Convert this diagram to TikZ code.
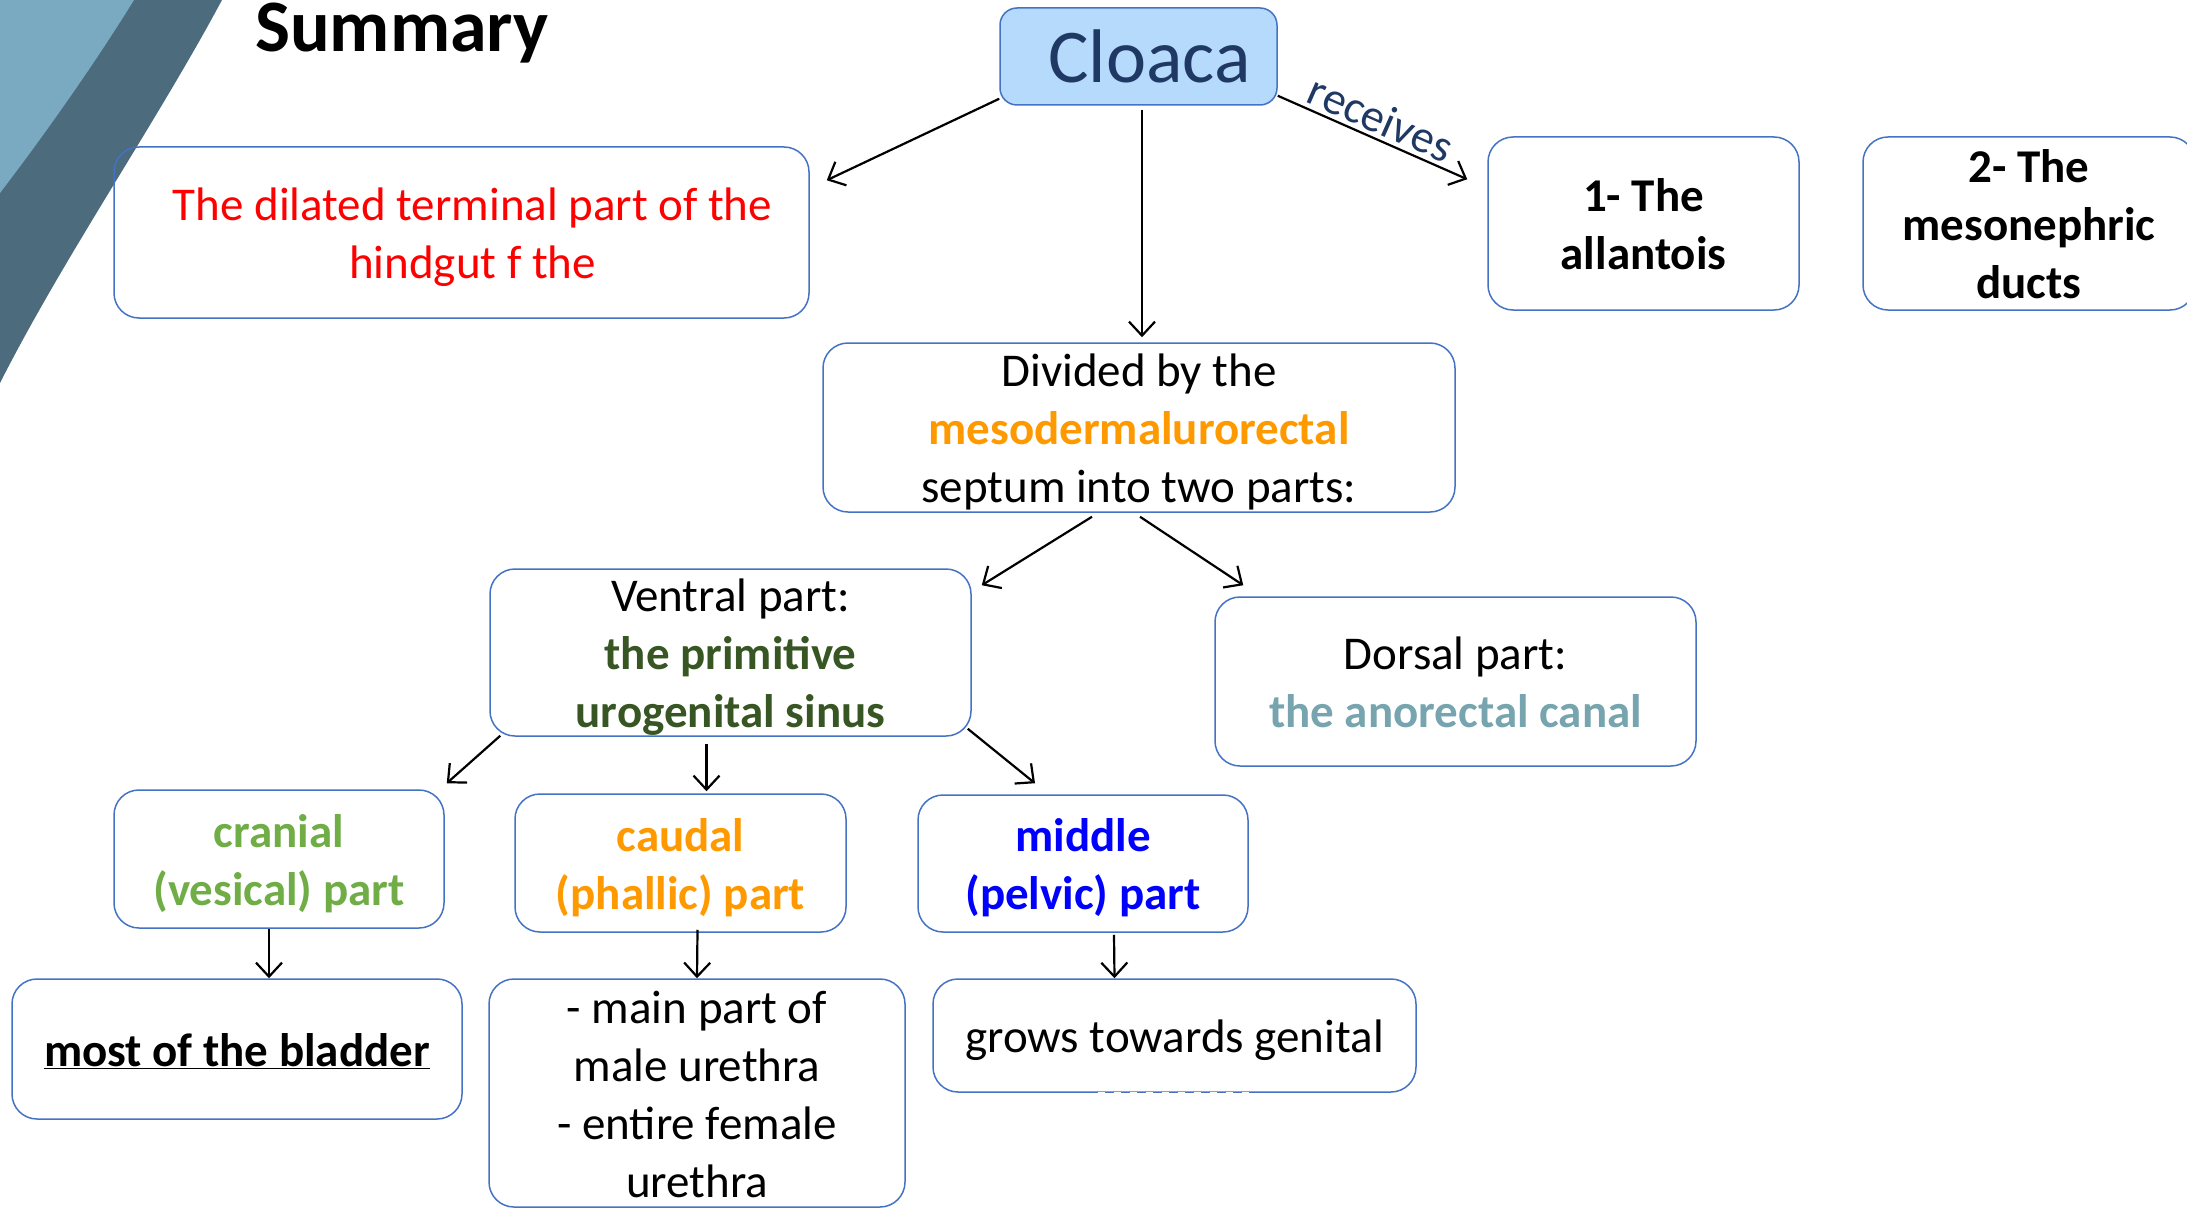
\documentclass[tikz,border=0pt]{standalone}
\usepackage{fontspec}
\setmainfont{Carlito}
\usetikzlibrary{arrows.meta,calc}
\definecolor{boxblue}{HTML}{4472C4}
\definecolor{cloacafill}{HTML}{B6DAFB}
\definecolor{navy}{HTML}{1F3864}
\definecolor{dkgreen}{HTML}{375623}
\definecolor{ltgreen}{HTML}{70AD47}
\definecolor{orng}{HTML}{FF9900}
\definecolor{teal}{HTML}{76A5AF}
\definecolor{swlight}{HTML}{79AAC2}
\definecolor{swdark}{HTML}{4C6B7C}
\newcommand\topS{\rule{0pt}{51pt}}
\newcommand\botS{\rule[-17pt]{0pt}{0pt}}
\tikzset{
  boxnode/.style={draw=boxblue, line width=1.5pt, rounded corners=25pt, align=center,
    inner xsep=0pt, inner ysep=-10pt, font=\fontsize{47}{58}\selectfont},
  arr/.style={draw=black, line width=2.2pt, -{Straight Barb[length=14pt,width=26pt]}},
}
\begin{document}
\begin{tikzpicture}[x=1pt,y=-1pt]
\useasboundingbox (0,0) rectangle (2187,1209);
% decorative swoosh
\fill[swdark] (0,0) -- (222,0) .. controls (155,125) and (65,255) .. (0,383) -- cycle;
\fill[swlight] (0,0) -- (134,0) .. controls (92,68) and (42,138) .. (0,193) -- cycle;
% title
\node[anchor=base west, font=\fontsize{74}{80}\selectfont\bfseries, inner sep=0pt] (title) at (255,52) {Summary};
% boxes
\node[boxnode, draw=boxblue, fill=cloacafill, rounded corners=17pt, minimum width=277pt, minimum height=97pt,
  inner ysep=0pt, text=navy, font=\fontsize{76}{80}\selectfont, text depth=0pt] (cloaca) at (1138.5,56.5) {\hspace*{22pt}Cloaca};
\node[boxnode, minimum width=695pt, minimum height=171pt, text=red] (red) at (461.5,232.5)
  {\topS\hspace*{22pt}The dilated terminal part of the\\\hspace*{22pt}hindgut f the\botS};
\node[boxnode, minimum width=311pt, minimum height=173pt, font=\fontsize{47}{58}\selectfont\bfseries] (allantois) at (1643.5,223.5)
  {\topS 1- The\\allantois\botS};
\node[boxnode, minimum width=332pt, minimum height=173pt, font=\fontsize{47}{58}\selectfont\bfseries] (meso) at (2029,223.5)
  {\topS 2- The\\mesonephric\\ducts\botS};
\node[boxnode, minimum width=632pt, minimum height=169pt] (divided) at (1139,427.5)
  {\topS Divided by the\\\textcolor{orng}{\bfseries mesodermalurorectal}\\septum into two parts:\botS};
\node[boxnode, minimum width=481pt, minimum height=167pt] (ventral) at (730.5,652.5)
  {\topS Ventral part:\\\textcolor{dkgreen}{\bfseries the primitive}\\\textcolor{dkgreen}{\bfseries urogenital sinus}\botS};
\node[boxnode, minimum width=481pt, minimum height=169pt] (dorsal) at (1455.5,681.5)
  {\topS Dorsal part:\\\textcolor{teal}{\bfseries the anorectal canal}\botS};
\node[boxnode, minimum width=330pt, minimum height=138pt, text=ltgreen, font=\fontsize{47}{58}\selectfont\bfseries] (cranial) at (279,859)
  {\topS cranial\\(vesical) part\botS};
\node[boxnode, minimum width=331pt, minimum height=138pt, text=orng, font=\fontsize{47}{58}\selectfont\bfseries] (caudal) at (680.5,863)
  {\topS caudal\\(phallic) part\botS};
\node[boxnode, minimum width=330pt, minimum height=137pt, text=blue, font=\fontsize{47}{58}\selectfont\bfseries] (middle) at (1083,863.5)
  {\topS middle\\(pelvic) part\botS};
\node[boxnode, minimum width=450pt, minimum height=140pt, font=\fontsize{47}{58}\selectfont\bfseries] (bladder) at (237,1049)
  {\topS\underline{most of the bladder}\botS};
\node[boxnode, minimum width=416pt, minimum height=228pt] (urethra) at (697,1093)
  {\topS - main part of\\male urethra\\- entire female\\urethra\botS};
\node[boxnode, minimum width=483pt, minimum height=113pt] (grows) at (1174.5,1035.5)
  {\topS grows towards genital\botS};
\draw[white, line width=2.2pt, dash pattern=on 7pt off 9pt] ([xshift=-77pt]grows.south) -- ([xshift=76pt]grows.south);
% connectors
\draw[arr] ([yshift=7pt]cloaca.south west) -- ([xshift=17pt,yshift=-34pt]red.north east);
\draw[arr] ([xshift=3.5pt,yshift=-4pt]cloaca.south) -- ([xshift=3pt,yshift=5pt]divided.north);
\draw[arr] ([yshift=10pt]cloaca.south east) -- node[midway, above=2pt, sloped, text=navy, font=\fontsize{46}{50}\selectfont, inner sep=2pt] {receives}
  ([xshift=-20pt,yshift=-43pt]allantois.north west);
\draw[arr] ([xshift=-47pt,yshift=-4pt]divided.south) -- ([xshift=10pt,yshift=-17pt]ventral.north east);
\draw[arr] ([xshift=1pt,yshift=-4pt]divided.south) -- ([xshift=29pt,yshift=11pt]dorsal.north west);
\draw[arr] ([xshift=11pt,yshift=1pt]ventral.south west) -- ([xshift=2pt,yshift=6pt]cranial.north east);
\draw[arr] ([xshift=-24pt,yshift=-7pt]ventral.south) -- ([xshift=26pt,yshift=2pt]caudal.north);
\draw[arr] ([xshift=-4pt,yshift=8pt]ventral.south east) -- ([xshift=-48pt,yshift=11pt]middle.north);
\draw[arr] ([xshift=-10pt]cranial.south) -- ([xshift=32pt]bladder.north);
\draw[arr] ([xshift=17pt,yshift=3pt]caudal.south) -- (urethra.north);
\draw[arr] ([xshift=31pt,yshift=-2pt]middle.south) -- ([xshift=-60pt]grows.north);
\end{tikzpicture}
\end{document}
